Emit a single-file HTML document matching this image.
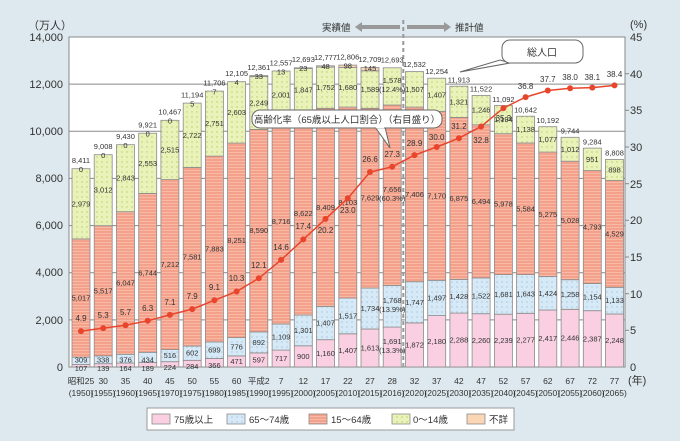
<!DOCTYPE html>
<html><head><meta charset="utf-8">
<style>
html,body{margin:0;padding:0;background:#dde9ee;}
svg{display:block;font-family:"Liberation Sans","Noto Sans CJK JP",sans-serif;}
.a{fill:#f9cfe1;stroke:#8c8c8c;stroke-width:.8}
.b{fill:url(#pb);stroke:#8c8c8c;stroke-width:.8}
.c{fill:url(#pc);stroke:#8c8c8c;stroke-width:.8}
.d{fill:url(#pd);stroke:#8c8c8c;stroke-width:.8}
.e{fill:#fbd6b4;stroke:#8c8c8c;stroke-width:.8}
.t{font-size:7.5px;fill:#333;text-anchor:middle}
.r{font-size:8px;fill:#333;text-anchor:middle}
.ax{font-size:11px;fill:#333}
.cat{font-size:8.5px;fill:#333;text-anchor:middle}
.g{stroke:#8a8a8a;stroke-width:1}
</style></head><body>
<svg width="680" height="441" viewBox="0 0 680 441">
<defs>
<pattern id="pb" width="5" height="5" patternUnits="userSpaceOnUse"><rect width="5" height="5" fill="#d6e9f6"/><circle cx="2" cy="2" r=".6" fill="#8fb6d4"/></pattern>
<pattern id="pc" width="4" height="3" patternUnits="userSpaceOnUse"><rect width="4" height="3" fill="#f4a18b"/><rect y="2" width="4" height="1" fill="#f8b9a6"/></pattern>
<pattern id="pd" width="5" height="5" patternUnits="userSpaceOnUse"><rect width="5" height="5" fill="#e9f2b8"/><circle cx="2" cy="2" r=".7" fill="#b9cc6a"/></pattern>
</defs>
<rect width="680" height="441" fill="#dde9ee"/>
<rect x="69" y="37" width="556" height="330" fill="#fff" stroke="#888"/>
<g class="g">
<line x1="69" y1="84.1" x2="625" y2="84.1"/><line x1="69" y1="131.3" x2="625" y2="131.3"/><line x1="69" y1="178.4" x2="625" y2="178.4"/><line x1="69" y1="225.6" x2="625" y2="225.6"/><line x1="69" y1="272.7" x2="625" y2="272.7"/><line x1="69" y1="319.9" x2="625" y2="319.9"/>
</g>
<!-- axes labels -->
<g class="ax" text-anchor="end">
<text x="63" y="41">14,000</text><text x="63" y="88">12,000</text><text x="63" y="135">10,000</text><text x="63" y="182">8,000</text><text x="63" y="229">6,000</text><text x="63" y="276">4,000</text><text x="63" y="324">2,000</text><text x="63" y="371">0</text>
</g>
<text x="28" y="29" class="ax" font-size="10">（万人）</text>
<g class="ax" font-size="12">
<text x="630" y="41">45</text><text x="630" y="78">40</text><text x="630" y="114">35</text><text x="630" y="151">30</text><text x="630" y="188">25</text><text x="630" y="224">20</text><text x="630" y="261">15</text><text x="630" y="298">10</text><text x="630" y="334">5</text><text x="630" y="371">0</text>
</g>
<text x="630" y="28" class="ax" font-size="10">(%)</text>
<text x="628" y="384" class="ax" font-size="9">(年)</text>
<g stroke="#888"><line x1="625" y1="73.7" x2="629" y2="73.7"/><line x1="625" y1="110.3" x2="629" y2="110.3"/><line x1="625" y1="147" x2="629" y2="147"/><line x1="625" y1="183.7" x2="629" y2="183.7"/><line x1="625" y1="220.3" x2="629" y2="220.3"/><line x1="625" y1="257" x2="629" y2="257"/><line x1="625" y1="293.7" x2="629" y2="293.7"/><line x1="625" y1="330.3" x2="629" y2="330.3"/></g>

<!-- bars -->
<rect class="a" x="72" y="364.5" width="18" height="2.5"/><rect class="b" x="72" y="357.2" width="18" height="7.3"/><rect class="c" x="72" y="238.9" width="18" height="118.3"/><rect class="d" x="72" y="168.7" width="18" height="70.2"/>
<rect class="a" x="94.2" y="363.7" width="18" height="3.3"/><rect class="b" x="94.2" y="355.8" width="18" height="7.9"/><rect class="c" x="94.2" y="225.7" width="18" height="130.1"/><rect class="d" x="94.2" y="154.7" width="18" height="71"/>
<rect class="a" x="116.5" y="363.1" width="18" height="3.9"/><rect class="b" x="116.5" y="354.3" width="18" height="8.8"/><rect class="c" x="116.5" y="211.7" width="18" height="142.6"/><rect class="d" x="116.5" y="144.7" width="18" height="67"/>
<rect class="a" x="138.7" y="362.5" width="18" height="4.5"/><rect class="b" x="138.7" y="352.3" width="18" height="10.2"/><rect class="c" x="138.7" y="193.4" width="18" height="158.9"/><rect class="d" x="138.7" y="133.2" width="18" height="60.2"/>
<rect class="a" x="160.9" y="361.7" width="18" height="5.3"/><rect class="b" x="160.9" y="349.6" width="18" height="12.1"/><rect class="c" x="160.9" y="179.6" width="18" height="170"/><rect class="d" x="160.9" y="120.3" width="18" height="59.3"/>
<rect class="a" x="183.2" y="360.3" width="18" height="6.7"/><rect class="b" x="183.2" y="346.1" width="18" height="14.2"/><rect class="c" x="183.2" y="167.4" width="18" height="178.7"/><rect class="d" x="183.2" y="103.1" width="18" height="64.3"/>
<rect class="a" x="205.4" y="358.4" width="18" height="8.6"/><rect class="b" x="205.4" y="341.9" width="18" height="16.5"/><rect class="c" x="205.4" y="156.1" width="18" height="185.8"/><rect class="d" x="205.4" y="91.1" width="18" height="65"/>
<rect class="a" x="227.6" y="355.9" width="18" height="11.1"/><rect class="b" x="227.6" y="337.6" width="18" height="18.3"/><rect class="c" x="227.6" y="143.1" width="18" height="194.5"/><rect class="d" x="227.6" y="81.7" width="18" height="61.4"/>
<rect class="a" x="249.8" y="352.9" width="18" height="14.1"/><rect class="b" x="249.8" y="331.9" width="18" height="21"/><rect class="c" x="249.8" y="129.4" width="18" height="202.5"/><rect class="d" x="249.8" y="76.4" width="18" height="53"/><rect class="e" x="249.8" y="75.6" width="18" height="0.8"/>
<rect class="a" x="272.1" y="350.1" width="18" height="16.9"/><rect class="b" x="272.1" y="324" width="18" height="26.1"/><rect class="c" x="272.1" y="118.5" width="18" height="205.5"/><rect class="d" x="272.1" y="71" width="18" height="47.5"/>
<rect class="a" x="294.3" y="345.8" width="18" height="21.2"/><rect class="b" x="294.3" y="315.1" width="18" height="30.7"/><rect class="c" x="294.3" y="111.9" width="18" height="203.2"/><rect class="d" x="294.3" y="68.4" width="18" height="43.5"/><rect class="e" x="294.3" y="67.8" width="18" height="0.6"/>
<rect class="a" x="316.5" y="339.7" width="18" height="27.3"/><rect class="b" x="316.5" y="306.5" width="18" height="33.2"/><rect class="c" x="316.5" y="108.3" width="18" height="198.2"/><rect class="d" x="316.5" y="67" width="18" height="41.3"/><rect class="e" x="316.5" y="65.8" width="18" height="1.2"/>
<rect class="a" x="338.8" y="333.8" width="18" height="33.2"/><rect class="b" x="338.8" y="298.1" width="18" height="35.7"/><rect class="c" x="338.8" y="107.1" width="18" height="191"/><rect class="d" x="338.8" y="67.5" width="18" height="39.6"/><rect class="e" x="338.8" y="65.1" width="18" height="2.4"/>
<rect class="a" x="361" y="329" width="18" height="38"/><rect class="b" x="361" y="288.1" width="18" height="40.9"/><rect class="c" x="361" y="108.3" width="18" height="179.8"/><rect class="d" x="361" y="70.8" width="18" height="37.5"/><rect class="e" x="361" y="67.4" width="18" height="3.4"/>
<rect class="a" x="383.2" y="327.1" width="18" height="39.9"/><rect class="b" x="383.2" y="285.5" width="18" height="41.6"/><rect class="c" x="383.2" y="105" width="18" height="180.5"/><rect class="d" x="383.2" y="67.8" width="18" height="37.2"/>
<rect class="a" x="405.5" y="322.9" width="18" height="44.1"/><rect class="b" x="405.5" y="281.7" width="18" height="41.2"/><rect class="c" x="405.5" y="107.1" width="18" height="174.6"/><rect class="d" x="405.5" y="71.6" width="18" height="35.5"/>
<rect class="a" x="427.7" y="315.6" width="18" height="51.4"/><rect class="b" x="427.7" y="280.3" width="18" height="35.3"/><rect class="c" x="427.7" y="111.3" width="18" height="169"/><rect class="d" x="427.7" y="78.2" width="18" height="33.1"/>
<rect class="a" x="449.9" y="313.1" width="18" height="53.9"/><rect class="b" x="449.9" y="279.4" width="18" height="33.7"/><rect class="c" x="449.9" y="117.4" width="18" height="162"/><rect class="d" x="449.9" y="86.2" width="18" height="31.2"/>
<rect class="a" x="472.1" y="313.7" width="18" height="53.3"/><rect class="b" x="472.1" y="277.9" width="18" height="35.8"/><rect class="c" x="472.1" y="124.8" width="18" height="153.1"/><rect class="d" x="472.1" y="95.4" width="18" height="29.4"/>
<rect class="a" x="494.4" y="314.2" width="18" height="52.8"/><rect class="b" x="494.4" y="274.6" width="18" height="39.6"/><rect class="c" x="494.4" y="133.7" width="18" height="140.9"/><rect class="d" x="494.4" y="105.5" width="18" height="28.2"/>
<rect class="a" x="516.6" y="313.3" width="18" height="53.7"/><rect class="b" x="516.6" y="274.6" width="18" height="38.7"/><rect class="c" x="516.6" y="143" width="18" height="131.6"/><rect class="d" x="516.6" y="116.2" width="18" height="26.8"/>
<rect class="a" x="538.8" y="310" width="18" height="57"/><rect class="b" x="538.8" y="276.5" width="18" height="33.5"/><rect class="c" x="538.8" y="152.1" width="18" height="124.4"/><rect class="d" x="538.8" y="126.7" width="18" height="25.4"/>
<rect class="a" x="561.1" y="309.3" width="18" height="57.7"/><rect class="b" x="561.1" y="279.7" width="18" height="29.6"/><rect class="c" x="561.1" y="161.2" width="18" height="118.5"/><rect class="d" x="561.1" y="137.3" width="18" height="23.9"/>
<rect class="a" x="583.3" y="310.7" width="18" height="56.3"/><rect class="b" x="583.3" y="283.5" width="18" height="27.2"/><rect class="c" x="583.3" y="170.6" width="18" height="112.9"/><rect class="d" x="583.3" y="148.1" width="18" height="22.5"/>
<rect class="a" x="605.5" y="314" width="18" height="53"/><rect class="b" x="605.5" y="287.3" width="18" height="26.7"/><rect class="c" x="605.5" y="180.5" width="18" height="106.8"/><rect class="d" x="605.5" y="159.4" width="18" height="21.1"/>

<!-- dashed separator -->
<line x1="403.3" y1="20" x2="403.3" y2="367" stroke="#999" stroke-width="2" stroke-dasharray="4,3"/>

<!-- segment labels -->
<g class="t">
<text x="81" y="371">107</text><text x="81" y="362.5">309</text><text x="81" y="300.5">5,017</text><text x="81" y="206.3">2,979</text>
<text x="103.2" y="371">139</text><text x="103.2" y="362.5">338</text><text x="103.2" y="293.3">5,517</text><text x="103.2" y="192.7">3,012</text>
<text x="125.5" y="371">164</text><text x="125.5" y="362.5">376</text><text x="125.5" y="285.5">6,047</text><text x="125.5" y="180.7">2,843</text>
<text x="147.7" y="371">189</text><text x="147.7" y="362.5">434</text><text x="147.7" y="275.4">6,744</text><text x="147.7" y="165.8">2,553</text>
<text x="169.9" y="370">224</text><text x="169.9" y="358">516</text><text x="169.9" y="267">7,212</text><text x="169.9" y="152.5">2,515</text>
<text x="192.2" y="369">284</text><text x="192.2" y="355.7">602</text><text x="192.2" y="259.3">7,581</text><text x="192.2" y="137.9">2,722</text>
<text x="214.4" y="368">366</text><text x="214.4" y="352.7">699</text><text x="214.4" y="251.5">7,883</text><text x="214.4" y="126.2">2,751</text>
<text x="236.6" y="364">471</text><text x="236.6" y="349.3">776</text><text x="236.6" y="242.9">8,251</text><text x="236.6" y="115">2,603</text>
<text x="258.8" y="362.5">597</text><text x="258.8" y="344.9">892</text><text x="258.8" y="233.2">8,590</text><text x="258.8" y="105.4">2,249</text>
<text x="281.1" y="361">717</text><text x="281.1" y="339.6">1,109</text><text x="281.1" y="223.8">8,716</text><text x="281.1" y="97.4">2,001</text>
<text x="303.3" y="358.9">900</text><text x="303.3" y="333">1,301</text><text x="303.3" y="216">8,622</text><text x="303.3" y="92.7">1,847</text>
<text x="325.5" y="355.9">1,160</text><text x="325.5" y="325.6">1,407</text><text x="325.5" y="209.9">8,409</text><text x="325.5" y="90.2">1,752</text>
<text x="347.8" y="352.9">1,407</text><text x="347.8" y="318.5">1,517</text><text x="347.8" y="205.1">8,103</text><text x="347.8" y="89.8">1,680</text>
<text x="370" y="350.5">1,613</text><text x="370" y="311.1">1,734</text><text x="370" y="200.7">7,629</text><text x="370" y="92.1">1,589</text>
<text x="392.2" y="344">1,691</text><text x="392.2" y="353">(13.3%)</text><text x="392.2" y="303">1,768</text><text x="392.2" y="312">(13.9%)</text><text x="392.2" y="192">7,656</text><text x="392.2" y="201">(60.3%)</text><text x="392.2" y="83">1,578</text><text x="392.2" y="92">(12.4%)</text>
<text x="414.5" y="347.5">1,872</text><text x="414.5" y="304.8">1,747</text><text x="414.5" y="196.9">7,406</text><text x="414.5" y="91.9">1,507</text>
<text x="436.7" y="343.8">2,180</text><text x="436.7" y="300.5">1,497</text><text x="436.7" y="198.3">7,170</text><text x="436.7" y="97.3">1,407</text>
<text x="458.9" y="342.5">2,288</text><text x="458.9" y="298.8">1,428</text><text x="458.9" y="200.9">6,875</text><text x="458.9" y="104.3">1,321</text>
<text x="481.1" y="342.9">2,260</text><text x="481.1" y="298.3">1,522</text><text x="481.1" y="203.9">6,494</text><text x="481.1" y="112.6">1,246</text>
<text x="503.4" y="343.1">2,239</text><text x="503.4" y="296.9">1,681</text><text x="503.4" y="206.7">5,978</text><text x="503.4" y="122.1">1,194</text>
<text x="525.6" y="342.7">2,277</text><text x="525.6" y="296.5">1,643</text><text x="525.6" y="211.3">5,584</text><text x="525.6" y="132.1">1,138</text>
<text x="547.8" y="341">2,417</text><text x="547.8" y="295.8">1,424</text><text x="547.8" y="216.8">5,275</text><text x="547.8" y="141.9">1,077</text>
<text x="570.1" y="340.7">2,446</text><text x="570.1" y="297">1,258</text><text x="570.1" y="223">5,028</text><text x="570.1" y="151.8">1,012</text>
<text x="592.3" y="341.4">2,387</text><text x="592.3" y="299.6">1,154</text><text x="592.3" y="229.6">4,793</text><text x="592.3" y="161.9">951</text>
<text x="614.5" y="343">2,248</text><text x="614.5" y="303.2">1,133</text><text x="614.5" y="236.4">4,529</text><text x="614.5" y="172.5">898</text>
</g>
<!-- unknown labels -->
<g class="t">
<text x="81" y="172">0</text><text x="103.2" y="158">0</text><text x="125.5" y="148">0</text><text x="147.7" y="136.5">0</text><text x="169.9" y="123.5">0</text><text x="192.2" y="106.5">5</text><text x="214.4" y="94.5">7</text><text x="236.6" y="85">4</text><text x="258.8" y="79">33</text><text x="281.1" y="74.5">13</text><text x="303.3" y="71">23</text><text x="325.5" y="69">48</text><text x="347.8" y="68.5">98</text><text x="370" y="71">145</text>
</g>
<!-- totals -->
<g class="t">
<text x="81" y="163">8,411</text><text x="103.2" y="149">9,008</text><text x="125.5" y="139">9,430</text><text x="147.7" y="127.5">9,921</text><text x="169.9" y="114.5">10,467</text><text x="192.2" y="97.5">11,194</text><text x="214.4" y="85.5">11,706</text><text x="236.6" y="76">12,105</text><text x="258.8" y="70">12,361</text><text x="281.1" y="65.5">12,557</text><text x="303.3" y="62">12,693</text><text x="325.5" y="60">12,777</text><text x="347.8" y="59.5">12,806</text><text x="370" y="62">12,709</text><text x="392.2" y="62.5">12,693</text><text x="414.5" y="67">12,532</text><text x="436.7" y="74">12,254</text><text x="458.9" y="82.5">11,913</text><text x="481.1" y="91.5">11,522</text><text x="503.4" y="102">11,092</text><text x="525.6" y="112.5">10,642</text><text x="547.8" y="123">10,192</text><text x="570.1" y="133.5">9,744</text><text x="592.3" y="144.5">9,284</text><text x="614.5" y="155.5">8,808</text>
</g>
<!-- rate line -->
<polyline fill="none" stroke="#e8452c" stroke-width="1.5" points="81,331.1 103.2,328.1 125.5,325.2 147.7,320.8 169.9,314.9 192.2,309.1 214.4,300.3 236.6,291.5 258.8,278.3 281.1,259.9 303.3,239.4 325.5,218.9 347.8,198.3 370,172 392.2,166.8 414.5,155.1 436.7,147 458.9,138.2 481.1,126.5 503.4,108.1 525.6,97.1 547.8,90.5 570.1,88.3 592.3,87.6 614.5,85.4"/>
<g fill="#e8452c">
<circle cx="81" cy="331.1" r="3"/><circle cx="103.2" cy="328.1" r="3"/><circle cx="125.5" cy="325.2" r="3"/><circle cx="147.7" cy="320.8" r="3"/><circle cx="169.9" cy="314.9" r="3"/><circle cx="192.2" cy="309.1" r="3"/><circle cx="214.4" cy="300.3" r="3"/><circle cx="236.6" cy="291.5" r="3"/><circle cx="258.8" cy="278.3" r="3"/><circle cx="281.1" cy="259.9" r="3"/><circle cx="303.3" cy="239.4" r="3"/><circle cx="325.5" cy="218.9" r="3"/><circle cx="347.8" cy="198.3" r="3"/><circle cx="370" cy="172" r="3"/><circle cx="392.2" cy="166.8" r="3"/><circle cx="414.5" cy="155.1" r="3"/><circle cx="436.7" cy="147" r="3"/><circle cx="458.9" cy="138.2" r="3"/><circle cx="481.1" cy="126.5" r="3"/><circle cx="503.4" cy="108.1" r="3"/><circle cx="525.6" cy="97.1" r="3"/><circle cx="547.8" cy="90.5" r="3"/><circle cx="570.1" cy="88.3" r="3"/><circle cx="592.3" cy="87.6" r="3"/><circle cx="614.5" cy="85.4" r="3"/>
</g>
<g class="r">
<text x="81" y="321">4.9</text><text x="103.2" y="318">5.3</text><text x="125.5" y="315">5.7</text><text x="147.7" y="311">6.3</text><text x="169.9" y="305">7.1</text><text x="192.2" y="299">7.9</text><text x="214.4" y="290">9.1</text><text x="236.6" y="281">10.3</text><text x="258.8" y="268">12.1</text><text x="281.1" y="250">14.6</text><text x="303.3" y="229">17.4</text><text x="325.5" y="233">20.2</text><text x="347.8" y="213">23.0</text><text x="370" y="162">26.6</text><text x="392.2" y="157">27.3</text><text x="414.5" y="146">28.9</text><text x="436.7" y="140">30.0</text><text x="458.9" y="129">31.2</text><text x="481.1" y="143">32.8</text><text x="503.4" y="121">35.3</text><text x="525.6" y="89">36.8</text><text x="547.8" y="82">37.7</text><text x="570.1" y="80">38.0</text><text x="592.3" y="80">38.1</text><text x="614.5" y="77">38.4</text>
</g>
<!-- header arrows -->
<text x="322" y="31" font-size="9.5" fill="#333">実績値</text>
<polygon points="355,27 362,22 362,25 400,25 400,29 362,29 362,32" fill="#999"/>
<polygon points="407,25 444,25 444,22 451,27 444,32 444,29 407,29" fill="#999"/>
<text x="455" y="31" font-size="9.5" fill="#333">推計値</text>
<!-- callouts -->
<path d="M510,63 L460,72 L500,60 Z" fill="#fff" stroke="#666"/>
<rect x="502" y="40" width="81" height="23" rx="8" fill="#fff" stroke="#666"/>
<text x="542" y="56" font-size="10" fill="#333" text-anchor="middle">総人口</text>
<path d="M375,127 L390,148 L385,127 Z" fill="#fff" stroke="#666"/>
<rect x="252" y="110" width="190" height="18" rx="8" fill="#fff" stroke="#666"/>
<line x1="376" y1="127.5" x2="384" y2="127.5" stroke="#fff" stroke-width="1.5"/>
<text x="347" y="123" font-size="9.5" fill="#333" text-anchor="middle">高齢化率（65歳以上人口割合）（右目盛り）</text>
<!-- categories -->
<g class="cat">
<text x="81" y="384">昭和25</text><text x="103.2" y="384">30</text><text x="125.5" y="384">35</text><text x="147.7" y="384">40</text><text x="169.9" y="384">45</text><text x="192.2" y="384">50</text><text x="214.4" y="384">55</text><text x="236.6" y="384">60</text><text x="258.8" y="384">平成2</text><text x="281.1" y="384">7</text><text x="303.3" y="384">12</text><text x="325.5" y="384">17</text><text x="347.8" y="384">22</text><text x="370" y="384">27</text><text x="392.2" y="384">28</text><text x="414.5" y="384">32</text><text x="436.7" y="384">37</text><text x="458.9" y="384">42</text><text x="481.1" y="384">47</text><text x="503.4" y="384">52</text><text x="525.6" y="384">57</text><text x="547.8" y="384">62</text><text x="570.1" y="384">67</text><text x="592.3" y="384">72</text><text x="614.5" y="384">77</text>
</g>
<g class="cat" font-size="8">
<text x="81" y="396">(1950)</text><text x="103.2" y="396">(1955)</text><text x="125.5" y="396">(1960)</text><text x="147.7" y="396">(1965)</text><text x="169.9" y="396">(1970)</text><text x="192.2" y="396">(1975)</text><text x="214.4" y="396">(1980)</text><text x="236.6" y="396">(1985)</text><text x="258.8" y="396">(1990)</text><text x="281.1" y="396">(1995)</text><text x="303.3" y="396">(2000)</text><text x="325.5" y="396">(2005)</text><text x="347.8" y="396">(2010)</text><text x="370" y="396">(2015)</text><text x="392.2" y="396">(2016)</text><text x="414.5" y="396">(2020)</text><text x="436.7" y="396">(2025)</text><text x="458.9" y="396">(2030)</text><text x="481.1" y="396">(2035)</text><text x="503.4" y="396">(2040)</text><text x="525.6" y="396">(2045)</text><text x="547.8" y="396">(2050)</text><text x="570.1" y="396">(2055)</text><text x="592.3" y="396">(2060)</text><text x="614.5" y="396">(2065)</text>
</g>
<!-- legend -->
<rect x="147" y="408" width="367" height="22" fill="#fff" stroke="#999"/>
<rect class="a" x="152" y="414" width="18" height="10"/><text x="174" y="423" font-size="9.5" fill="#333">75歳以上</text>
<rect class="b" x="227" y="414" width="18" height="10"/><text x="249" y="423" font-size="9.5" fill="#333">65～74歳</text>
<rect class="c" x="309" y="414" width="18" height="10"/><text x="331" y="423" font-size="9.5" fill="#333">15～64歳</text>
<rect class="d" x="392" y="414" width="18" height="10"/><text x="413" y="423" font-size="9.5" fill="#333">0～14歳</text>
<rect class="e" x="467" y="414" width="18" height="10"/><text x="489" y="423" font-size="9.5" fill="#333">不詳</text>
</svg>
</body></html>
